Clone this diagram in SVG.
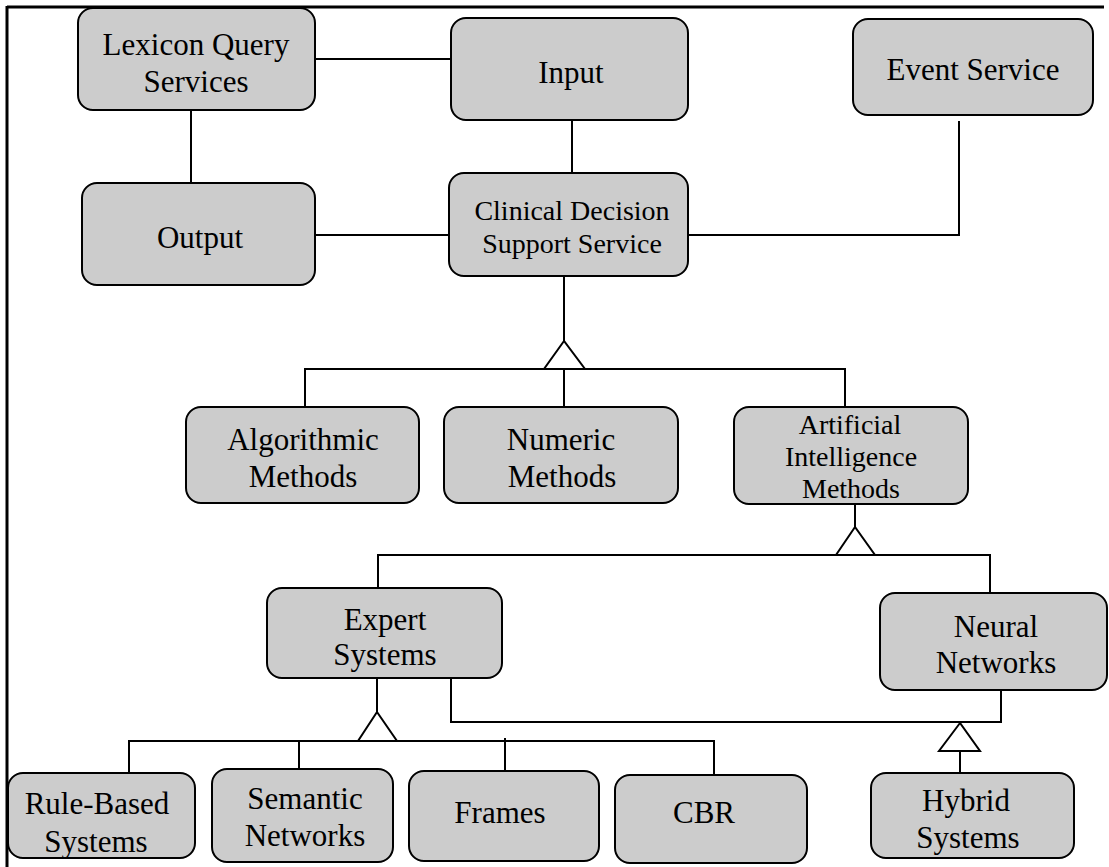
<svg xmlns="http://www.w3.org/2000/svg" width="1109" height="867" viewBox="0 0 1109 867">
<style>
.box{fill:#cccccc;stroke:#000;stroke-width:2}
.t{font-family:"Liberation Serif","Times New Roman",serif;font-size:31px;fill:#000;text-anchor:middle}
.s{font-size:28px}
.a{font-size:28px}
.c{fill:none;stroke:#000;stroke-width:2}
.tri{fill:#fff;stroke:#000;stroke-width:2;stroke-linejoin:miter}
</style>
<rect width="1109" height="867" fill="#fff"/>
<g id="frame">
<line x1="7" y1="7" x2="1104" y2="7" stroke="#000" stroke-width="3"/>
<line x1="7" y1="6" x2="7" y2="867" stroke="#000" stroke-width="3"/>
</g>
<g id="connectors">
<line class="c" x1="315" y1="59" x2="451" y2="59"/>
<line class="c" x1="191" y1="110" x2="191" y2="183"/>
<line class="c" x1="572" y1="120" x2="572" y2="173"/>
<line class="c" x1="315" y1="235" x2="449" y2="235"/>
<polyline class="c" points="688,235 959,235 959,121"/>
<line class="c" x1="564" y1="276" x2="564" y2="341"/>
<polyline class="c" points="305,407 305,369 845,369 845,410"/>
<line class="c" x1="564" y1="369" x2="564" y2="407"/>
<polygon class="tri" points="564,341 544,369 585,369"/>
<line class="c" x1="855" y1="504" x2="855" y2="527"/>
<polyline class="c" points="378,588 378,555 990,555 990,593"/>
<polygon class="tri" points="855,527 836,555 875,555"/>
<line class="c" x1="377" y1="678" x2="377" y2="712"/>
<polyline class="c" points="129,773 129,741 714,741 714,775"/>
<line class="c" x1="299" y1="741" x2="299" y2="769"/>
<line class="c" x1="505" y1="738" x2="505" y2="771"/>
<polygon class="tri" points="377,712 358,741 397,741"/>
<polyline class="c" points="451,678 451,722 1001,722 1001,690"/>
<line class="c" x1="960" y1="751" x2="960" y2="773"/>
<polygon class="tri" points="960,723 939,751 980,751"/>
</g>
<g id="lexicon"><rect class="box" x="78" y="8" width="237" height="102" rx="15"/><text class="t" x="196" y="55">Lexicon Query</text><text class="t" x="196" y="92">Services</text></g>
<g id="output"><rect class="box" x="82" y="183" width="233" height="102" rx="15"/><text class="t" x="200" y="248">Output</text></g>
<g id="input"><rect class="box" x="451" y="18" width="237" height="102" rx="15"/><text class="t" x="571" y="83">Input</text></g>
<g id="cdss"><rect class="box" x="449" y="173" width="239" height="103" rx="15"/><text class="t s" x="572" y="220">Clinical Decision</text><text class="t s" x="572" y="253">Support Service</text></g>
<g id="event"><rect class="box" x="853" y="19" width="240" height="96" rx="15"/><text class="t" x="973" y="80">Event Service</text></g>
<g id="algorithmic"><rect class="box" x="186" y="407" width="233" height="96" rx="15"/><text class="t" x="303" y="450">Algorithmic</text><text class="t" x="303" y="487">Methods</text></g>
<g id="numeric"><rect class="box" x="444" y="407" width="234" height="96" rx="15"/><text class="t" x="561" y="450">Numeric</text><text class="t" x="562" y="487">Methods</text></g>
<g id="ai"><rect class="box" x="734" y="407" width="234" height="97" rx="15"/><text class="t a" x="850" y="434">Artificial</text><text class="t a" x="851" y="466">Intelligence</text><text class="t a" x="851" y="498">Methods</text></g>
<g id="expert"><rect class="box" x="267" y="588" width="235" height="90" rx="15"/><text class="t" x="385" y="630">Expert</text><text class="t" x="385" y="665">Systems</text></g>
<g id="neural"><rect class="box" x="880" y="593" width="227" height="97" rx="15"/><text class="t" x="996" y="637">Neural</text><text class="t" x="996" y="673">Networks</text></g>
<g id="rulebased"><rect class="box" x="8" y="773" width="187" height="85" rx="15"/><text class="t" x="97" y="814">Rule-Based</text><text class="t" x="96" y="852">Systems</text></g>
<g id="semantic"><rect class="box" x="212" y="769" width="181" height="93" rx="15"/><text class="t" x="305" y="809">Semantic</text><text class="t" x="305" y="846">Networks</text></g>
<g id="frames"><rect class="box" x="409" y="771" width="190" height="90" rx="15"/><text class="t" x="500" y="823">Frames</text></g>
<g id="cbr"><rect class="box" x="615" y="775" width="192" height="88" rx="15"/><text class="t" x="704" y="823">CBR</text></g>
<g id="hybrid"><rect class="box" x="871" y="773" width="203" height="85" rx="15"/><text class="t" x="966" y="811">Hybrid</text><text class="t" x="968" y="848">Systems</text></g>
</svg>
